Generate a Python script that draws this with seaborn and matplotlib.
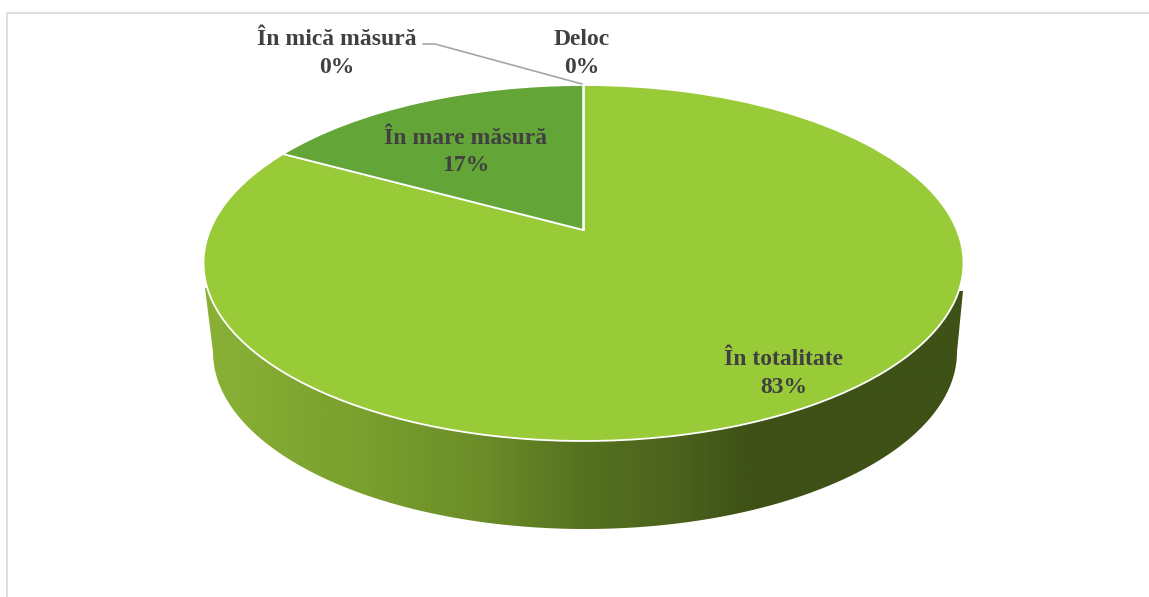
import matplotlib
matplotlib.use("Agg")
import matplotlib.pyplot as plt
import numpy as np
import seaborn as sns
from matplotlib.colors import LinearSegmentedColormap
from matplotlib.patches import Polygon
from matplotlib.transforms import Transform

categories = ["În totalitate", "În mare măsură", "În mică măsură", "Deloc"]
values = [83, 17, 0, 0]
pie_colors = ["#99CB38", "#63A537", "#37A76F", "#44C1A3"]

# label centres, in picture pixels
label_pos = [(784, 373.5), (466, 152), (337, 53.5), (582, 53.5)]

W, H = 1149, 597


class TiltedPie(Transform):
    """Perspective view of the unit circle, output in picture pixels."""

    input_dims = 2
    output_dims = 2

    def transform_non_affine(self, xy):
        xy = np.asarray(xy)
        d = 1 + 0.1854 * xy[:, 1]
        return np.column_stack(
            [
                583.5 + 373.4 * xy[:, 0] / d,
                (230 - 129.24 * xy[:, 1]) / d,
            ]
        )


sns.set_theme(style="white")
plt.rcParams["font.family"] = ["Liberation Serif", "DejaVu Serif"]

fig = plt.figure(figsize=(W / 100, H / 100), dpi=100, facecolor="white")
ax = fig.add_axes([0, 0, 1, 1])

wedges, _ = ax.pie(
    values,
    colors=sns.color_palette(pie_colors),
    startangle=90,
    counterclock=False,
    wedgeprops={"edgecolor": "white", "linewidth": 1.3},
)
tilt = TiltedPie() + ax.transData
for w in wedges:
    w.set_transform(tilt)

# frame
ax.plot([7, 7], [H, 13], color="#D9D9D9", lw=1.2, solid_capstyle="butt")
ax.plot([7, W], [13, 13], color="#D9D9D9", lw=1.2, solid_capstyle="butt")

# side wall, lower rim is a slightly smaller ellipse
t = np.linspace(np.pi, 0, 200)
rim_x = 585 + 372 * np.cos(t)
rim_y = 352 + 177 * np.sin(t)
wall = np.column_stack(
    [
        np.r_[205, rim_x, 963],
        np.r_[288, rim_y, 291],
    ]
)
wall_cmap = LinearSegmentedColormap.from_list(
    "wall",
    [
        (0.0, "#8AB136"),
        (0.2, "#7AA02E"),
        (0.35, "#6D8F29"),
        (0.5, "#55711F"),
        (0.62, "#4B631D"),
        (0.72, "#3E5116"),
        (1.0, "#3E5116"),
    ],
)
grad = ax.imshow(
    np.linspace(0, 1, 400).reshape(1, -1),
    cmap=wall_cmap,
    extent=(205, 965, 540, 260),
    aspect="auto",
    zorder=0,
)
patch = Polygon(wall, closed=True, facecolor="none", edgecolor="none")
ax.add_patch(patch)
grad.set_clip_path(patch)

# leader line of the small label
ax.plot([423, 435, 582], [44, 44, 84], color="#A6A6A6", lw=1.2)

for name, val, (x, y) in zip(categories, values, label_pos):
    ax.text(
        x,
        y,
        f"{name}\n{val}%",
        ha="center",
        va="center",
        fontsize=17,
        fontweight="bold",
        color="#404040",
        linespacing=1.38,
    )

ax.set_aspect("auto")
ax.set_xlim(0, W)
ax.set_ylim(H, 0)
ax.set_axis_off()

fig.savefig("out.png", dpi=100)
